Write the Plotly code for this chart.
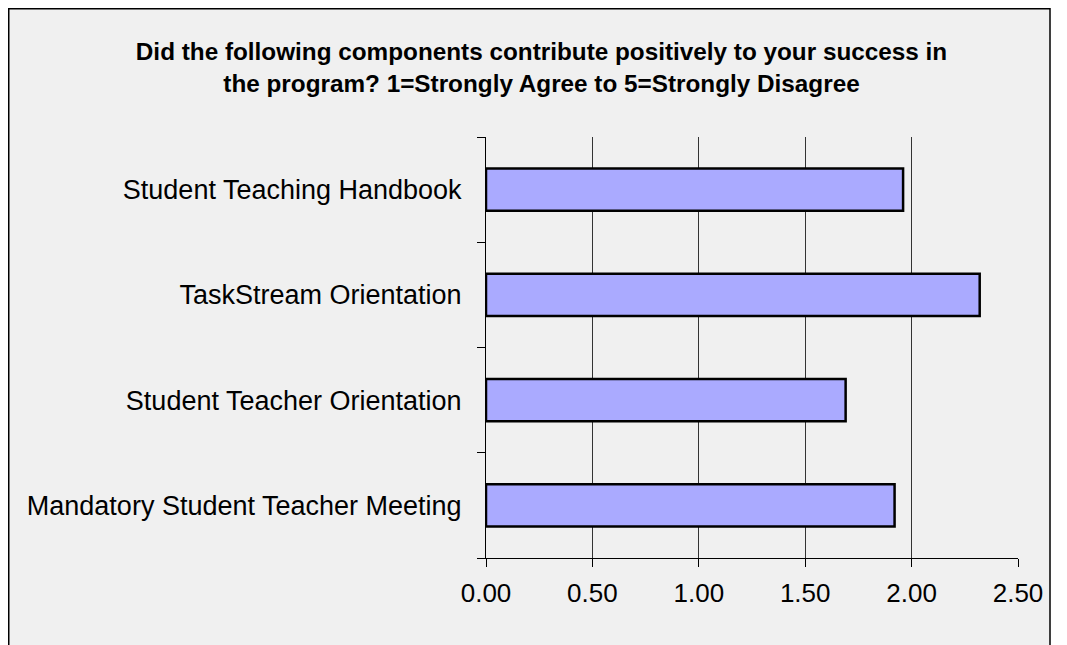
import plotly.graph_objects as go

categories = [
    "Mandatory Student Teacher Meeting",
    "Student Teacher Orientation",
    "TaskStream Orientation",
    "Student Teaching Handbook",
]
values = [1.92, 1.69, 2.32, 1.96]
tick_vals = [0, 0.5, 1.0, 1.5, 2.0, 2.5]
title_text = ("<b>Did the following components contribute positively to your success in"
              "<br>the program? 1=Strongly Agree to 5=Strongly Disagree</b>")

# page body has an 8px margin, so figure coordinates are offset by 8px
W, H = 1067, 645
L, T = 478, 129
R = W - 1010
B = H - 550
pw, ph = W - L - R, H - T - B

fig = go.Figure(go.Bar(
    x=values, y=categories, orientation="h", width=0.4,
    marker=dict(color="#aaaaff", line=dict(color="black", width=2.5)),
))

fig.update_layout(
    width=W, height=H,
    margin=dict(l=L, r=R, t=T, b=B, pad=0),
    paper_bgcolor="white",
    plot_bgcolor="rgba(0,0,0,0)",
    font=dict(family="Liberation Sans, Arial, sans-serif", color="black", size=26),
    showlegend=False,
    title=dict(text=title_text, x=0.5, xanchor="center", y=(H - 52) / H, yanchor="middle",
               font=dict(size=24.3, family="Liberation Sans, Arial, sans-serif", color="black")),
    shapes=[dict(type="rect", xref="paper", yref="paper", layer="below",
                 x0=(0.75 - L) / pw, x1=(1042 - L) / pw,
                 y0=(H - B - 660) / ph, y1=(H - B - 0.75) / ph,
                 line=dict(color="black", width=1.5), fillcolor="#f0f0f0")],
)

fig.update_xaxes(
    range=[0, 2.5], tickvals=tick_vals, tickformat=".2f",
    showgrid=True, gridcolor="#333333", gridwidth=1,
    showline=True, linecolor="black", linewidth=1,
    ticks="outside", ticklen=8, tickcolor="black",
    tickfont=dict(size=26), ticklabelstandoff=4, zeroline=False, fixedrange=True,
)
fig.update_yaxes(
    categoryorder="array", categoryarray=categories,
    showline=True, linecolor="black", linewidth=1,
    ticks="outside", ticklen=8, tickcolor="black", tickson="boundaries",
    tickfont=dict(size=27), ticklabelstandoff=18, showgrid=False, fixedrange=True,
)

fig.write_html("out.html")
